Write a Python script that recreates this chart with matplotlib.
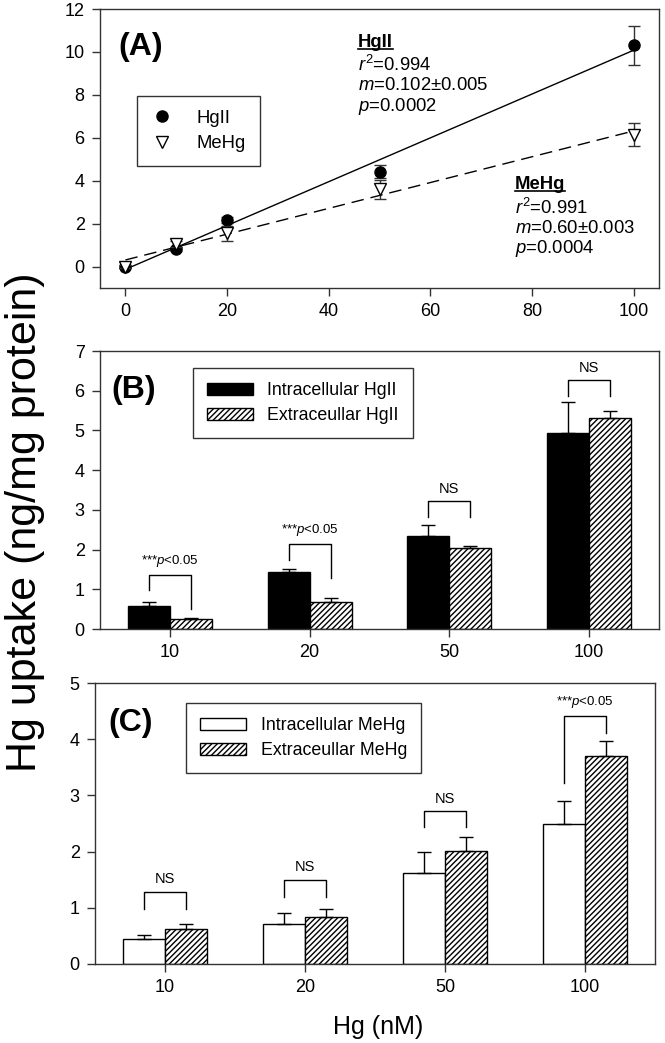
import numpy as np
import matplotlib
matplotlib.use("Agg")
import matplotlib.pyplot as plt
from matplotlib.lines import Line2D

plt.rcParams['font.family'] = ['Liberation Sans', 'DejaVu Sans']
plt.rcParams['mathtext.fontset'] = 'custom'
plt.rcParams['mathtext.rm'] = 'Liberation Sans'
plt.rcParams['mathtext.it'] = 'Liberation Sans:italic'
plt.rcParams['mathtext.bf'] = 'Liberation Sans:bold'
plt.rcParams['hatch.linewidth'] = 1.0

# ---------------- data ----------------
# Panel A
conc_a = [0, 10, 20, 50, 100]
hg_a = [0.0, 0.82, 2.17, 4.42, 10.31]
hg_a_err = [0.05, 0.08, 0.15, 0.3, 0.9]
mehg_a = [0.0, 1.05, 1.55, 3.6, 6.15]
mehg_a_err = [0.05, 0.15, 0.35, 0.45, 0.55]

# Panels B & C
categories = ['10', '20', '50', '100']
intra_hg = [0.58, 1.44, 2.33, 4.93]
intra_hg_err = [0.10, 0.08, 0.28, 0.78]
extra_hg = [0.25, 0.68, 2.04, 5.32]
extra_hg_err = [0.02, 0.11, 0.06, 0.17]

intra_mehg = [0.44, 0.71, 1.62, 2.50]
intra_mehg_err = [0.07, 0.19, 0.38, 0.40]
extra_mehg = [0.62, 0.83, 2.01, 3.70]
extra_mehg_err = [0.10, 0.14, 0.25, 0.26]

# significance brackets: (top, left-leg bottom, right-leg bottom, label)
sig_b_top = [1.37, 2.14, 3.22, 6.26]
sig_b_left = [0.98, 1.75, 2.82, 5.86]
sig_b_right = [0.50, 1.29, 2.82, 5.86]
sig_b_label = ['***$p$<0.05', '***$p$<0.05', 'NS', 'NS']

sig_c_top = [1.28, 1.50, 2.72, 4.42]
sig_c_left = [0.98, 1.20, 2.44, 3.22]
sig_c_right = [0.98, 1.20, 2.44, 4.11]
sig_c_label = ['NS', 'NS', 'NS', '***$p$<0.05']

# ---------------- figure ----------------
W, H = 665, 1043
fig = plt.figure(figsize=(W / 100, H / 100), dpi=100)

def ax_rect(l, r, t, b):
    return [l / W, 1 - b / H, (r - l) / W, (b - t) / H]

axA = fig.add_axes(ax_rect(100, 659, 9, 288))
axB = fig.add_axes(ax_rect(100, 659, 351, 629))
axC = fig.add_axes(ax_rect(95, 655, 683, 964))

TICK_FS = 13
LEG_FS = 12.8
ANN_FS = 13.3
PANEL_FS = 23

spine_col = '#333333'
for ax in (axA, axB, axC):
    for s in ('top', 'right', 'left', 'bottom'):
        ax.spines[s].set_color(spine_col)
        ax.spines[s].set_linewidth(1.0)
    ax.tick_params(direction='out', length=6, width=1, color=spine_col,
                   labelsize=TICK_FS, top=False, right=False, pad=5)

# ---- Panel A ----
xa = np.array(conc_a, dtype=float)
ax = axA
ax.errorbar(conc_a, hg_a, yerr=hg_a_err, fmt='o', color='black', ms=8,
            ecolor='#333333', elinewidth=1, capsize=4, capthick=1, zorder=4)
ax.errorbar(conc_a, mehg_a, yerr=mehg_a_err, fmt='v', mfc='white', mec='black', ms=9,
            mew=1, ecolor='#333333', elinewidth=1, capsize=4, capthick=1, zorder=5)
p1 = np.polyfit(xa, hg_a, 1)
p2 = np.polyfit(xa, mehg_a, 1)
xl = np.array([0, 100])
ax.plot(xl, np.polyval(p1, xl), '-', color='black', lw=1, zorder=3)
ax.plot(xl, np.polyval(p2, xl), '--', color='black', lw=1, dashes=(9, 5), zorder=3)
ax.set_xlim(-5, 105)
ax.set_ylim(-1, 12)
ax.set_xticks([0, 20, 40, 60, 80, 100])
ax.set_yticks([0, 2, 4, 6, 8, 10, 12])
h = [Line2D([], [], marker='o', ls='', color='black', ms=8),
     Line2D([], [], marker='v', ls='', mfc='white', mec='black', ms=9)]
leg = ax.legend(h, ['HgII', 'MeHg'], loc='upper left', bbox_to_anchor=(0.066, 0.688),
                borderaxespad=0, fontsize=13.3, frameon=True, fancybox=False,
                edgecolor='black', handlelength=1.2, handletextpad=1.3,
                borderpad=0.75, labelspacing=0.45)
leg.get_frame().set_linewidth(1)
ax.text(0.032, 0.864, '(A)', transform=ax.transAxes, fontsize=PANEL_FS, fontweight='bold',
        va='center', ha='left')

title_texts = []
t = ax.text(45.8, 10.42, 'HgII', fontsize=ANN_FS, fontweight='bold', va='center', ha='left')
title_texts.append(t)
ax.text(45.8, 9.40, '$r^2$=0.994', fontsize=ANN_FS, va='center', ha='left')
ax.text(45.8, 8.42, '$m$=0.102\u00b10.005', fontsize=ANN_FS, va='center', ha='left')
ax.text(45.8, 7.44, '$p$=0.0002', fontsize=ANN_FS, va='center', ha='left')
t = ax.text(76.6, 3.81, 'MeHg', fontsize=ANN_FS, fontweight='bold', va='center', ha='left')
title_texts.append(t)
ax.text(76.6, 2.74, '$r^2$=0.991', fontsize=ANN_FS, va='center', ha='left')
ax.text(76.6, 1.77, '$m$=0.60\u00b10.003', fontsize=ANN_FS, va='center', ha='left')
ax.text(76.6, 0.84, '$p$=0.0004', fontsize=ANN_FS, va='center', ha='left')

# ---- bar panels ----
xpos = np.arange(len(categories))
bw = 0.3
narrow = ['Liberation Sans Narrow', 'Liberation Sans', 'DejaVu Sans']

def bar_panel(ax, intra, intra_err, extra, extra_err, intra_fc, lab1, lab2,
              tops, lefts, rights, labels, ylim, leg_anchor, panel_label, pl_pos):
    ax.bar(xpos - bw / 2, intra, bw, color=intra_fc, edgecolor='black', lw=1, label=lab1, zorder=2)
    ax.bar(xpos + bw / 2, extra, bw, color='white', edgecolor='black', hatch='//////', lw=1,
           label=lab2, zorder=2)
    ax.errorbar(xpos - bw / 2, intra, yerr=[np.zeros(len(intra)), intra_err], fmt='none',
                ecolor='black', elinewidth=1, capsize=5, capthick=1, zorder=3)
    ax.errorbar(xpos + bw / 2, extra, yerr=[np.zeros(len(extra)), extra_err], fmt='none',
                ecolor='black', elinewidth=1, capsize=5, capthick=1, zorder=3)
    for i in range(len(xpos)):
        x0, x1 = xpos[i] - bw / 2, xpos[i] + bw / 2
        ax.plot([x0, x0, x1, x1], [lefts[i], tops[i], tops[i], rights[i]], color='black', lw=1)
        fs = 10.5 if labels[i] == 'NS' else 9.5
        ax.text(xpos[i], tops[i] + (ylim[1] * 0.02), labels[i], ha='center', va='bottom',
                fontsize=fs, family=narrow)
    ax.set_xlim(-0.5, 3.5)
    ax.set_ylim(*ylim)
    ax.set_xticks(xpos)
    ax.set_xticklabels(categories)
    ax.set_yticks(np.arange(0, ylim[1] + 1))
    leg = ax.legend(loc='upper left', bbox_to_anchor=leg_anchor, borderaxespad=0, fontsize=LEG_FS,
                    frameon=True, fancybox=False, edgecolor='black', handlelength=2.6,
                    handleheight=0.6, handletextpad=0.8, borderpad=0.8, labelspacing=0.45)
    leg.get_frame().set_linewidth(1)
    ax.text(pl_pos[0], pl_pos[1], panel_label, transform=ax.transAxes, fontsize=PANEL_FS,
            fontweight='bold', va='center', ha='left')

bar_panel(axB, intra_hg, intra_hg_err, extra_hg, extra_hg_err, 'black',
          'Intracellular HgII', 'Extraceullar HgII',
          sig_b_top, sig_b_left, sig_b_right, sig_b_label, (0, 7), (0.166, 0.939),
          '(B)', (0.021, 0.86))
bar_panel(axC, intra_mehg, intra_mehg_err, extra_mehg, extra_mehg_err, 'white',
          'Intracellular MeHg', 'Extraceullar MeHg',
          sig_c_top, sig_c_left, sig_c_right, sig_c_label, (0, 5), (0.1625, 0.929),
          '(C)', (0.023, 0.858))

fig.text(25 / W, 1 - 522 / H, 'Hg uptake (ng/mg protein)', rotation=90, fontsize=31,
         va='center', ha='center')
fig.text(378 / W, 1 - 1027 / H, 'Hg (nM)', fontsize=18, va='center', ha='center')

# underline titles in panel A
fig.canvas.draw()
inv = fig.transFigure.inverted()
for t in title_texts:
    bb = t.get_window_extent()
    (x0, y0), (x1, _) = inv.transform([[bb.x0, bb.y0 + 2], [bb.x1, bb.y0 + 2]])
    fig.add_artist(Line2D([x0, x1], [y0, y0], color='black', lw=1.2,
                          transform=fig.transFigure))

fig.savefig('out.png', dpi=100)
